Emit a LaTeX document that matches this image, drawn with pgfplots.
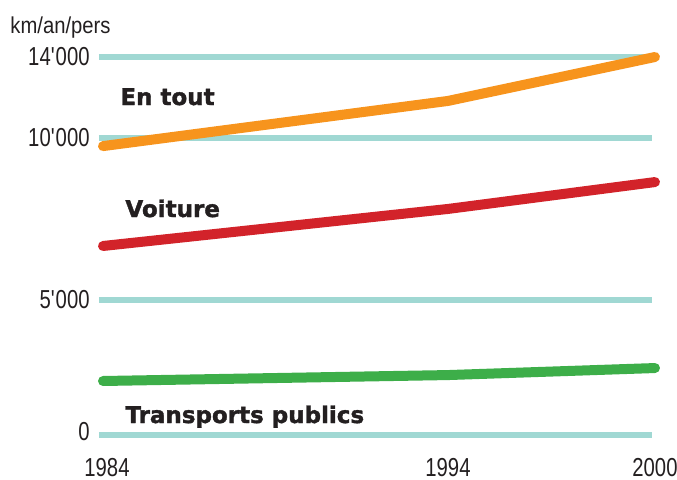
\documentclass[border=0pt]{standalone}
\usepackage{fontspec}
\setmainfont{Liberation Sans}
\newfontfamily\condfont{Liberation Sans}[FakeStretch=0.78]
\newfontfamily\kmfont{Liberation Sans}[FakeStretch=0.88]
\newfontfamily\blackfont{DejaVu Sans}[FakeBold=1.6]
\usepackage{pgfplots}
\pgfplotsset{compat=1.18}
\definecolor{gridc}{HTML}{A0D8D3}
\definecolor{orangec}{HTML}{F7941D}
\definecolor{redc}{HTML}{D2232A}
\definecolor{greenc}{HTML}{3DAE49}
\definecolor{txt}{HTML}{231F20}
\begin{document}
\begin{tikzpicture}[x=0.5pt,y=0.5pt]
\path[use as bounding box] (-103,-44) rectangle (574,435);
\begin{axis}[
  at={(0,0)}, anchor=south west,
  scale only axis, width=276pt, height=189pt,
  xmin=1984, xmax=2000, ymin=0, ymax=14000,
  y coord trafo/.code={\pgfmathparse{ifthenelse(#1<=5000, #1*0.027, ifthenelse(#1<=10000, 135+(#1-5000)*0.0324, 297+(#1-10000)*0.02025))}},
  clip=false,
  axis line style={draw=none},
  major tick style={draw=none},
  xtick={1984,1994,2000},
  xticklabels={\hspace*{4pt}1984,1994,2000},
  ytick={0,5000,10000,14000},
  yticklabels={\raisebox{3.5pt}{0},5\textquotesingle000,10\textquotesingle000,14\textquotesingle000},
  ticklabel style={font=\condfont\fontsize{13}{15}\selectfont, text=txt},
  yticklabel style={anchor=east, inner sep=0pt, xshift=-6.5pt},
  xticklabel style={anchor=north, inner sep=0pt, yshift=-11.5pt},
]
% grid lines
\addplot[gridc, line width=3pt] coordinates {(1983.88,0) (1999.91,0)};
\addplot[gridc, line width=3pt] coordinates {(1983.88,5000) (1999.91,5000)};
\addplot[gridc, line width=3pt] coordinates {(1983.88,10000) (1999.91,10000)};
\addplot[gridc, line width=3pt] coordinates {(1983.88,14000) (1999.91,14000)};
% series
\addplot[orangec, line width=5pt, line cap=round, line join=round] coordinates {(1984,9750) (1994,11830) (2000,14000)};
\addplot[redc, line width=5pt, line cap=round, line join=round] coordinates {(1984,6667) (1994,7810) (2000,8640)};
\addplot[greenc, line width=5pt, line cap=round, line join=round] coordinates {(1984,2000) (1994,2220) (2000,2480)};
\end{axis}
\node[anchor=base west, inner sep=0pt, text=txt, font=\kmfont\fontsize{11.5}{13}\selectfont] at (-93,402) {km/an/pers};
\node[anchor=base west, inner sep=0pt, text=txt, font=\blackfont\bfseries\fontsize{11.5}{13}\selectfont] at (17,330) {En tout};
\node[anchor=base west, inner sep=0pt, text=txt, font=\blackfont\bfseries\fontsize{11.5}{13}\selectfont] at (22,218) {Voiture};
\node[anchor=base west, inner sep=0pt, text=txt, font=\blackfont\bfseries\fontsize{11.5}{13}\selectfont] at (22,12) {Transports publics};
\end{tikzpicture}
\end{document}
